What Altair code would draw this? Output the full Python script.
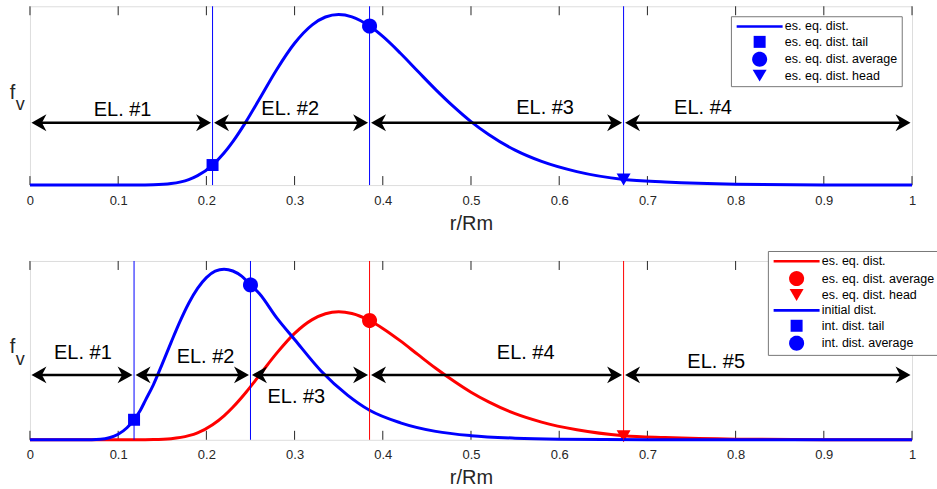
import math

import altair as alt
import pandas as pd

# ---------------------------------------------------------------- data
# equilibrium distribution f_v(r/Rm), upper panel
r_eq = [0, 0.10, 0.12, 0.14, 0.16, 0.18, 0.19, 0.207, 0.22, 0.23, 0.245, 0.26,
        0.28, 0.30, 0.32, 0.335, 0.35, 0.365, 0.385, 0.40, 0.42, 0.44, 0.46, 0.48,
        0.50, 0.52, 0.55, 0.58, 0.62, 0.673, 0.72, 0.80, 0.90, 1.0]
f_eq_upper = [0, 0, 0.0001, 0.0014, 0.0082, 0.0308, 0.0526, 0.112, 0.179, 0.243, 0.355, 0.480,
              0.648, 0.793, 0.896, 0.940, 0.954, 0.941, 0.889, 0.831, 0.737, 0.635, 0.534, 0.440,
              0.355, 0.283, 0.195, 0.132, 0.075, 0.031, 0.0168, 0.0047, 0.0009, 0.0002]
# equilibrium distribution, lower panel
f_eq_lower = [0, 0, 0.0001, 0.0011, 0.0062, 0.023, 0.039, 0.084, 0.134, 0.182, 0.266, 0.36,
              0.486, 0.595, 0.672, 0.705, 0.716, 0.706, 0.667, 0.623, 0.553, 0.476, 0.40, 0.33,
              0.266, 0.212, 0.146, 0.099, 0.056, 0.023, 0.0126, 0.0035, 0.0007, 0.0002]
# initial distribution, lower panel
r_init = [0, 0.06, 0.08, 0.09, 0.10, 0.11, 0.118, 0.125, 0.131, 0.14, 0.15, 0.16, 0.17,
          0.18, 0.19, 0.20, 0.21, 0.22, 0.23, 0.24, 0.25, 0.26, 0.28, 0.30, 0.33, 0.36,
          0.385, 0.42, 0.46, 0.50, 0.55, 0.60, 0.70, 0.80, 1.0]
f_init = [0, 0.0001, 0.0034, 0.0116, 0.0309, 0.0672, 0.112, 0.1635, 0.222, 0.309, 0.425, 0.545,
          0.661, 0.764, 0.847, 0.907, 0.943, 0.954, 0.944, 0.915, 0.866, 0.818, 0.68, 0.561,
          0.385, 0.25, 0.165, 0.095, 0.047, 0.023, 0.0093, 0.0037, 0.0006, 0.0001, 0]

# characteristic points
upper_mark_labels = ["es. eq. dist. tail", "es. eq. dist. average", "es. eq. dist. head"]
upper_mark_r = [0.207, 0.385, 0.673]
upper_mark_f = [0.112, 0.889, 0.031]

lower_eq_mark_labels = ["es. eq. dist. average", "es. eq. dist. head"]
lower_eq_mark_r = [0.385, 0.673]
lower_eq_mark_f = [0.667, 0.020]

lower_init_mark_labels = ["int. dist. tail", "int. dist. average"]
lower_init_mark_r = [0.118, 0.25]
lower_init_mark_f = [0.112, 0.866]

# element boundaries and arrow levels
upper_bounds = [0, 0.207, 0.385, 0.673, 1.0]
lower_bounds = [0, 0.118, 0.25, 0.385, 0.673, 1.0]
upper_arrow_f = 0.348
lower_arrow_f = 0.363

# element captions
upper_el_text = ["EL. #1", "EL. #2", "EL. #3", "EL. #4"]
upper_el_r = [0.105, 0.295, 0.584, 0.763]
upper_el_f = [0.385, 0.39, 0.397, 0.397]
lower_el_text = ["EL. #1", "EL. #2", "EL. #3", "EL. #4", "EL. #5"]
lower_el_r = [0.060, 0.199, 0.302, 0.562, 0.778]
lower_el_f = [0.450, 0.430, 0.207, 0.450, 0.402]

# vertical guide lines
upper_guides_blue = [0.207, 0.385, 0.673]
lower_guides_blue = [0.118, 0.25]
lower_guides_red = [0.385, 0.673]

tick_values = [0, 0.1, 0.2, 0.3, 0.4, 0.5, 0.6, 0.7, 0.8, 0.9, 1.0]

upper_legend_labels = ["es. eq. dist.", "es. eq. dist. tail", "es. eq. dist. average",
                       "es. eq. dist. head"]
lower_legend_labels = ["es. eq. dist.", "es. eq. dist. average", "es. eq. dist. head",
                       "initial dist.", "int. dist. tail", "int. dist. average"]

# ---------------------------------------------------------------- style
BLUE = "#0000ff"
RED = "#ff0000"
INK = "#262626"
FONT = "Liberation Sans"
W, H = 883, 179


def polygon(radius, n=36):
    pts = [(radius * math.cos(2 * math.pi * k / n), radius * math.sin(2 * math.pi * k / n))
           for k in range(n)]
    return "M" + "L".join(f"{x:.3f},{y:.3f}" for x, y in pts) + "Z"


# filled symbol outlines (one unit = 5 px at size 100)
SYM_LINE = "M-4.6,-0.27H4.6V0.27H-4.6Z"
SYM_SQUARE = "M-1.2,-1.2H1.2V1.2H-1.2Z"
SYM_CIRCLE = polygon(1.5)
SYM_TRIANGLE = "M-1.4,-1.2L1.4,-1.2L0,1.2Z"
HEAD_RIGHT = "M0,0L-3,-1.7L-2.1,0L-3,1.7Z"
HEAD_LEFT = "M0,0L3,-1.7L2.1,0L3,1.7Z"

x_scale = alt.Scale(domain=[0, 1], nice=False, zero=False)
y_scale = alt.Scale(domain=[0, 1], nice=False, zero=False)
x_axis = alt.Axis(values=tick_values, format="~g", title="r/Rm", grid=False, domain=False,
                  ticks=False, tickSize=0, labelFont=FONT, labelFontSize=13, labelColor=INK,
                  labelPadding=19, labelBaseline="alphabetic", labelFlush=False,
                  labelOverlap=False, titleFont=FONT, titleFontSize=20,
                  titleFontWeight="normal", titleColor=INK, titleBaseline="alphabetic",
                  titleY=44)


def X():
    return alt.X("r:Q", scale=x_scale, axis=x_axis)


def Y():
    return alt.Y("f:Q", scale=y_scale, axis=None)


def make_legend(lx, ly, row_pad):
    return alt.Legend(title=None, orient="none", legendX=lx, legendY=ly, rowPadding=row_pad,
                      padding=4, symbolSize=100, symbolStrokeWidth=0, symbolOffset=18.5,
                      labelOffset=19, labelFont=FONT, labelFontSize=12.5, labelColor="#000000",
                      strokeColor="#777777", fillColor="white", symbolOpacity=1)


def panel(curves, marks, bounds, arrow_f, el_text, el_r, el_f, guides,
          labels, colors, shapes, legend):
    stroke = alt.Stroke("label:N", scale=alt.Scale(domain=labels, range=colors), legend=legend)
    fill = alt.Fill("label:N", scale=alt.Scale(domain=labels, range=colors), legend=legend)
    shape = alt.Shape("label:N", scale=alt.Scale(domain=labels, range=shapes), legend=legend)

    ticks = pd.DataFrame({"r": tick_values})
    layers = [
        alt.Chart(ticks).mark_rule(color=INK, strokeWidth=1).encode(
            x=X(), y=alt.value(H), y2=alt.value(H - 9)),
        alt.Chart(ticks).mark_rule(color=INK, strokeWidth=1).encode(
            x=X(), y=alt.value(0), y2=alt.value(9)),
    ]
    # curves and their characteristic points, drawn series by series
    for curve_df, mark_df in zip(curves, marks):
        layers.append(alt.Chart(curve_df).mark_line(strokeWidth=3, interpolate="monotone")
                      .encode(x=X(), y=Y(), stroke=stroke))
        layers.append(alt.Chart(mark_df).mark_point(filled=True, size=100, opacity=1)
                      .encode(x=X(), y=Y(), fill=fill, shape=shape))
    for color, positions in guides:
        layers.append(alt.Chart(pd.DataFrame({"r": positions}))
                      .mark_rule(color=color, strokeWidth=1).encode(x=X()))

    seg = pd.DataFrame({"r": bounds[:-1], "r2": bounds[1:], "f": [arrow_f] * (len(bounds) - 1)})
    ends = pd.DataFrame({"r": bounds[1:], "f": [arrow_f] * (len(bounds) - 1)})
    layers += [
        alt.Chart(seg).mark_rule(color="black", strokeWidth=2.5, xOffset=6, x2Offset=-6)
        .encode(x=X(), x2="r2:Q", y=Y()),
        alt.Chart(seg).mark_point(shape=HEAD_LEFT, size=100, filled=True, color="black",
                                  opacity=1, xOffset=1.5).encode(x=X(), y=Y()),
        alt.Chart(ends).mark_point(shape=HEAD_RIGHT, size=100, filled=True, color="black",
                                   opacity=1, xOffset=-1.5).encode(x=X(), y=Y()),
        alt.Chart(pd.DataFrame({"t": el_text, "r": el_r, "f": el_f}))
        .mark_text(font=FONT, fontSize=20, color="black", align="center", baseline="alphabetic")
        .encode(x=X(), y=Y(), text="t:N"),
        alt.Chart(pd.DataFrame({"t": ["f"]}))
        .mark_text(font=FONT, fontSize=20, color=INK, align="left", baseline="alphabetic")
        .encode(x=alt.value(-20.3), y=alt.value(92.5), text="t:N"),
        alt.Chart(pd.DataFrame({"t": ["v"]}))
        .mark_text(font=FONT, fontSize=18, color=INK, align="left", baseline="alphabetic")
        .encode(x=alt.value(-14.3), y=alt.value(104), text="t:N"),
    ]
    return alt.layer(*layers).properties(width=W, height=H)


upper = panel(
    curves=[pd.DataFrame({"r": r_eq, "f": f_eq_upper, "label": "es. eq. dist."})],
    marks=[pd.DataFrame({"r": upper_mark_r, "f": upper_mark_f, "label": upper_mark_labels})],
    bounds=upper_bounds, arrow_f=upper_arrow_f,
    el_text=upper_el_text, el_r=upper_el_r, el_f=upper_el_f,
    guides=[(BLUE, upper_guides_blue)],
    labels=upper_legend_labels,
    colors=[BLUE, BLUE, BLUE, BLUE],
    shapes=[SYM_LINE, SYM_SQUARE, SYM_CIRCLE, SYM_TRIANGLE],
    legend=make_legend(701.7, 10, 2.4),
)

lower = panel(
    curves=[pd.DataFrame({"r": r_eq, "f": f_eq_lower, "label": "es. eq. dist."}),
            pd.DataFrame({"r": r_init, "f": f_init, "label": "initial dist."})],
    marks=[pd.DataFrame({"r": lower_eq_mark_r, "f": lower_eq_mark_f,
                         "label": lower_eq_mark_labels}),
           pd.DataFrame({"r": lower_init_mark_r, "f": lower_init_mark_f,
                         "label": lower_init_mark_labels})],
    bounds=lower_bounds, arrow_f=lower_arrow_f,
    el_text=lower_el_text, el_r=lower_el_r, el_f=lower_el_f,
    guides=[(BLUE, lower_guides_blue), (RED, lower_guides_red)],
    labels=lower_legend_labels,
    colors=[RED, RED, RED, BLUE, BLUE, BLUE],
    shapes=[SYM_LINE, SYM_CIRCLE, SYM_TRIANGLE, SYM_LINE, SYM_SQUARE, SYM_CIRCLE],
    legend=make_legend(738.7, -10, 2.4),
)

chart = (
    alt.vconcat(upper, lower, spacing=76, bounds="flush")
    .resolve_scale(stroke="independent", fill="independent", shape="independent")
    .resolve_legend(stroke="independent", fill="independent", shape="independent")
    .properties(padding={"left": 9, "top": 5, "right": -3, "bottom": 0})
    .configure_view(stroke=INK, strokeWidth=1)
    .configure(background="white")
)

chart.save("out.html", embed_options={"renderer": "svg", "actions": False})
